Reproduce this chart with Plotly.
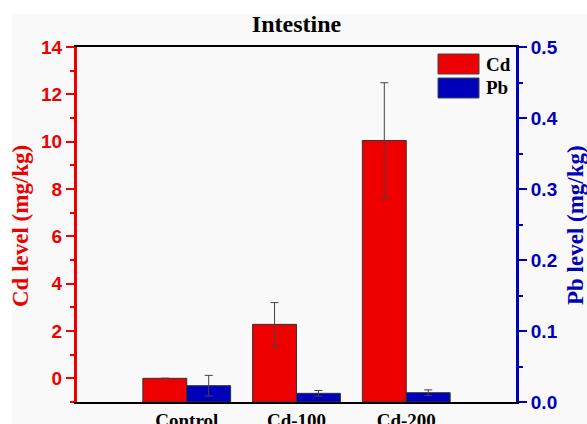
import plotly.graph_objects as go

categories = ["Control", "Cd-100", "Cd-200"]
cd_values = [0.0, 2.28, 10.05]
cd_errors = [0.0, 0.92, 2.44]
pb_values = [0.023, 0.0122, 0.0131]
pb_errors = [0.0145, 0.004, 0.004]
cd_ticks = [0, 2, 4, 6, 8, 10, 12, 14]
pb_ticks = [0.0, 0.1, 0.2, 0.3, 0.4, 0.5]
cd_base = -1

RED = "#ee0000"
BLUE = "#0000bb"
SERIF = "Liberation Serif, Times New Roman, serif"
SANS = "Liberation Sans, Arial, sans-serif"

fig = go.Figure()
fig.add_trace(go.Bar(
    x=categories, y=[v - cd_base for v in cd_values], base=cd_base,
    width=0.4, offset=-0.4, name="Cd",
    marker=dict(color=RED, line=dict(color="#333333", width=1)),
    error_y=dict(type="data", array=cd_errors, color="#444444", thickness=1, width=4),
    yaxis="y", showlegend=False,
))
fig.add_trace(go.Bar(
    x=categories, y=pb_values, width=0.4, offset=0.0, name="Pb",
    marker=dict(color=BLUE, line=dict(color="#333333", width=1)),
    error_y=dict(type="data", array=pb_errors, color="#444444", thickness=1, width=4),
    yaxis="y2", showlegend=False,
))

fig.update_layout(
    width=587, height=424,
    margin=dict(l=77, r=71, t=47, b=22, autoexpand=False),
    paper_bgcolor="white",
    plot_bgcolor="rgba(0,0,0,0)",
    barmode="overlay",
    title=dict(text="<b>Intestine</b>", x=0.5, xref="paper", xanchor="center",
               y=1 - 24 / 424, yanchor="middle",
               font=dict(family=SERIF, size=24, color="black")),
    xaxis=dict(
        type="category", range=[-1, 3], showgrid=False, automargin=False,
        showline=True, linecolor="black", linewidth=2, mirror=True,
        ticks="", ticklen=0,
        tickfont=dict(family=SERIF, size=19, color="black", weight="bold"),
        zeroline=False,
    ),
    yaxis=dict(
        range=[-1, 14], tickvals=cd_ticks, showgrid=False, zeroline=False,
        automargin=False,
        showline=True, linecolor=RED, linewidth=3,
        ticks="outside", ticklen=8, tickwidth=2, tickcolor=RED,
        minor=dict(ticks="outside", ticklen=4, tickwidth=2, tickcolor=RED, dtick=1, tick0=1),
        tickfont=dict(family=SANS, size=19, color=RED, weight="bold"),
    ),
    yaxis2=dict(
        range=[0, 0.5], tickvals=pb_ticks, overlaying="y", side="right",
        showgrid=False, zeroline=False, automargin=False,
        showline=True, linecolor=BLUE, linewidth=3,
        ticks="outside", ticklen=8, tickwidth=2, tickcolor=BLUE,
        minor=dict(ticks="outside", ticklen=4, tickwidth=2, tickcolor=BLUE, dtick=0.05),
        tickfont=dict(family=SANS, size=19, color=BLUE, weight="bold"),
        tickformat=".1f",
    ),
)

# light gray background panel
fig.add_shape(type="rect", xref="paper", yref="paper", layer="below",
              x0=(12 - 77) / 439, x1=(587 - 77) / 439,
              y0=(402 - 424) / 355, y1=(402 - 14) / 355,
              fillcolor="#f9f9f9", line=dict(width=0))

# legend
legend_items = [("Cd", RED, 54, 74), ("Pb", BLUE, 78, 98)]
for label, color, top, bottom in legend_items:
    fig.add_shape(type="rect", xref="paper", yref="paper",
                  x0=(438 - 77) / 439, x1=(479 - 77) / 439,
                  y0=(402 - bottom) / 355, y1=(402 - top) / 355,
                  fillcolor=color, line=dict(color="#444444", width=1))
    fig.add_annotation(text=f"<b>{label}</b>", xref="paper", yref="paper",
                       x=(484 - 77) / 439, y=(402 - (top + bottom) / 2) / 355,
                       xanchor="left", yanchor="middle", showarrow=False,
                       font=dict(family=SERIF, size=19, color="black"))

# axis titles
fig.add_annotation(text="<b>Cd level (mg/kg)</b>", xref="paper", yref="paper",
                   x=(20 - 77) / 439, y=(402 - 226) / 355, textangle=-90,
                   xanchor="center", yanchor="middle", showarrow=False,
                   font=dict(family=SERIF, size=23, color=RED))
fig.add_annotation(text="<b>Pb level (mg/kg)</b>", xref="paper", yref="paper",
                   x=(575 - 77) / 439, y=(402 - 225) / 355, textangle=-90,
                   xanchor="center", yanchor="middle", showarrow=False,
                   font=dict(family=SERIF, size=23, color=BLUE))

fig.write_html("out.html")
